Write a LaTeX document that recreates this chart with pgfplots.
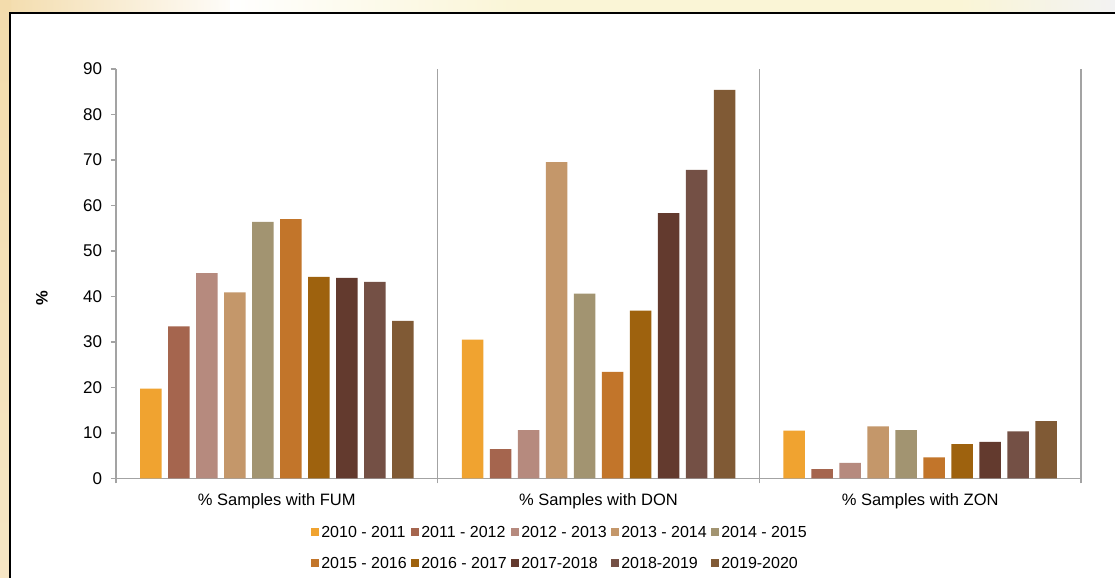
\documentclass[border=0pt]{standalone}
\usepackage{fontspec}
\setmainfont{Liberation Sans}
\usepackage{pgfplots}
\pgfplotsset{compat=1.18}

\definecolor{s1}{HTML}{F0A330}
\definecolor{s2}{HTML}{A5654E}
\definecolor{s3}{HTML}{B68A7E}
\definecolor{s4}{HTML}{C4976A}
\definecolor{s5}{HTML}{A29471}
\definecolor{s6}{HTML}{C2752A}
\definecolor{s7}{HTML}{9E620E}
\definecolor{s8}{HTML}{633A2E}
\definecolor{s9}{HTML}{745045}
\definecolor{s10}{HTML}{805A35}
\definecolor{axisgray}{HTML}{A3A3A3}
\definecolor{wheat}{HTML}{F3DCAC}
\definecolor{paleyellow}{HTML}{FAF5D6}

\newcommand{\legtext}[1]{\makebox[53.8pt][l]{#1}}

\begin{document}
\begin{tikzpicture}
\useasboundingbox (0,0) rectangle (669pt,346.2pt);
% backdrop around the chart panel (pixel-like units, y downwards)
\begin{scope}[yshift=346.2pt,x=0.6pt,y=-0.6pt]
  \clip (0,0) rectangle (1115,577);
  \fill[white] (0,0) rectangle (1115,577);
  \shade[left color=wheat, right color=white] (0,0) rectangle (250,14);
  \shade[left color=white, right color=paleyellow] (230,0) rectangle (520,14);
  \fill[paleyellow] (520,0) rectangle (960,14);
  \shade[left color=paleyellow, right color=white!90!gray] (960,0) rectangle (1115,14);
  \shade[top color=wheat, bottom color=wheat!70!white] (0,0) rectangle (11,577);
  \fill[white] (10,13) rectangle (1130,590);
  \draw[black, line width=1.4pt] (10,600) -- (10,13) -- (1130,13);
\end{scope}

\begin{axis}[
  at={(69.6pt,59.2pt)}, anchor=south west,
  scale only axis, width=579pt, height=245.6pt,
  xmin=-0.5, xmax=2.5, ymin=0, ymax=90,
  ybar=3.9pt, bar width=12.9pt,
  axis lines=left,
  axis line style={draw=axisgray, line width=0.9pt, -},
  tick align=outside, major tick length=3pt,
  xtick={0,1,2},
  xticklabels={\% Samples with FUM, \% Samples with DON, \% Samples with ZON},
  xtick style={draw=none},
  extra x ticks={-0.5,0.5,1.5,2.5},
  extra x tick labels={},
  extra x tick style={grid=major, xtick style={draw=axisgray, line width=0.9pt}},
  major grid style={draw=axisgray, line width=0.9pt},
  ytick={0,10,...,90},
  ytick style={draw=axisgray, line width=0.9pt},
  /pgf/number format/assume math mode=true,
  yticklabel style={font=\fontsize{10.2}{12}\selectfont, text=black, xshift=-1.8pt},
  xticklabel style={font=\fontsize{9.9}{12}\selectfont, text=black, yshift=-2.4pt},
  ylabel={\textbf{\%}},
  ylabel style={at={(axis description cs:-0.0767,0.44)}, anchor=center, font=\fontsize{9.9}{12}\selectfont},
  legend columns=5,
  legend style={at={(axis description cs:0.2017,-0.1165)}, anchor=north west,
    draw=none, fill=none, inner sep=0pt, column sep=0pt, row sep=10.4pt,
    font=\fontsize{9.6}{11}\selectfont, nodes={inner sep=0pt, anchor=base west},
    /tikz/every odd column/.append style={column sep=1.2pt}},
  legend image code/.code={\fill[#1, draw=none] (0pt,0.9pt) rectangle (5pt,5.9pt);},
]
\addplot[fill=s1, draw=none] coordinates {(0,19.7) (1,30.5) (2,10.5)};
\addplot[fill=s2, draw=none] coordinates {(0,33.4) (1,6.4) (2,2.0)};
\addplot[fill=s3, draw=none] coordinates {(0,45.1) (1,10.6) (2,3.4)};
\addplot[fill=s4, draw=none] coordinates {(0,40.9) (1,69.5) (2,11.4)};
\addplot[fill=s5, draw=none] coordinates {(0,56.4) (1,40.6) (2,10.6)};
\addplot[fill=s6, draw=none] coordinates {(0,57.0) (1,23.4) (2,4.6)};
\addplot[fill=s7, draw=none] coordinates {(0,44.3) (1,36.9) (2,7.5)};
\addplot[fill=s8, draw=none] coordinates {(0,44.1) (1,58.3) (2,8.0)};
\addplot[fill=s9, draw=none] coordinates {(0,43.2) (1,67.8) (2,10.3)};
\addplot[fill=s10, draw=none] coordinates {(0,34.6) (1,85.4) (2,12.6)};
\legend{\legtext{2010 - 2011},\legtext{2011 - 2012},\legtext{2012 - 2013},\legtext{2013 - 2014},\legtext{2014 - 2015},
        \legtext{2015 - 2016},\legtext{2016 - 2017},\legtext{2017-2018},\legtext{2018-2019},\legtext{2019-2020}}
\end{axis}
\end{tikzpicture}
\end{document}
